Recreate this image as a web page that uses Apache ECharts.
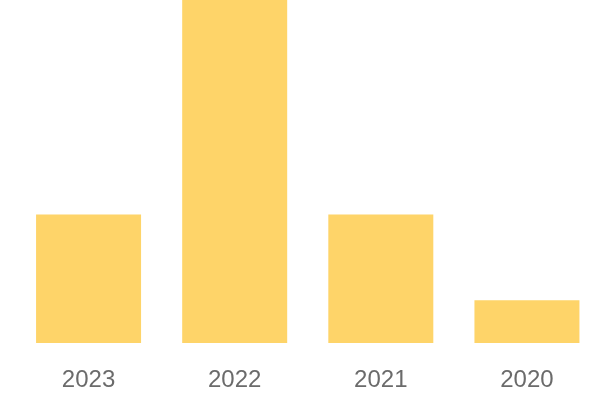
<!DOCTYPE html>
<html>
<head>
<meta charset="utf-8">
<script src="https://cdn.jsdelivr.net/npm/echarts@6/dist/echarts.min.js"></script>
<style>html,body{margin:0;padding:0;background:#fff}#c{width:600px;height:400px}</style>
</head>
<body>
<div id="c"></div>
<script>
const categories = ['2023', '2022', '2021', '2020'];
const values = [3, 8, 3, 1];

const chart = echarts.init(document.getElementById('c'), null, {renderer: 'canvas'});
chart.setOption({
  animation: false,
  grid: {left: 15.5, right: 0, top: 0, bottom: 57, containLabel: false},
  xAxis: {
    type: 'category',
    data: categories,
    axisLine: {show: false},
    axisTick: {show: false},
    axisLabel: {color: '#6b6b6b', fontSize: 24, fontFamily: 'Liberation Sans', margin: 25}
  },
  yAxis: {
    type: 'value',
    min: 0,
    max: 8,
    show: false,
    splitLine: {show: false}
  },
  series: [{
    type: 'bar',
    data: values,
    barWidth: 105,
    itemStyle: {color: '#FED469'}
  }]
});
</script>
</body>
</html>
